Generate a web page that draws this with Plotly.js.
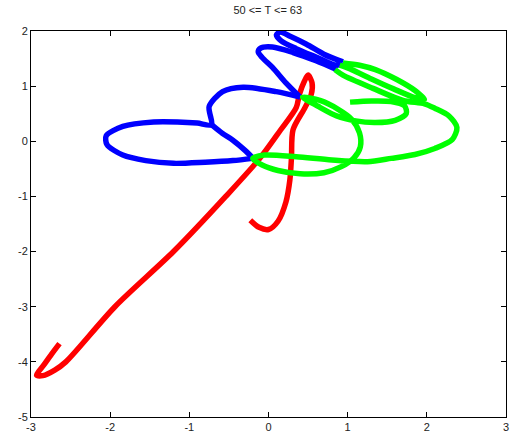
<!DOCTYPE html>
<html>
<head>
<meta charset="utf-8">
<script src="https://cdn.plot.ly/plotly-3.0.1.min.js"></script>
<style>html,body{margin:0;padding:0;background:#fff;}#chart{width:510px;height:434px;}</style>
</head>
<body>
<div id="chart"></div>
<script>
// Red trajectory
var redX = [-2.64, -2.74, -2.84, -2.93, -2.85, -2.70, -2.56, -1.94, -1.20, -0.54, -0.11, 0.15, 0.35, 0.39, 0.45, 0.50, 0.55, 0.54, 0.46, 0.31, 0.29, 0.27, 0.22, 0.12, 0.00, -0.12, -0.23];
var redY = [-3.67, -3.86, -4.06, -4.24, -4.25, -4.15, -4.00, -3.00, -2.00, -1.00, -0.31, 0.20, 0.61, 0.85, 1.08, 1.20, 1.06, 0.85, 0.61, 0.21, -0.30, -0.70, -1.10, -1.45, -1.60, -1.56, -1.43];

// Blue trajectory (segments separated by null)
var blueX = [-0.20, -0.45, -0.80, -1.20, -1.55, -1.84, -2.04, -2.05, -1.84, -1.45, -1.15, -0.90, -0.72, -0.75, -0.58, -0.32, 0.10, 0.40, null,
             -0.72, -0.58, -0.45, -0.30, -0.20, null,
             0.40, 0.22, 0.05, -0.08, -0.13, -0.10, 0.05, 0.31, 0.60, 0.86, null,
             0.94, 0.70, 0.48, 0.28, 0.15, 0.10, 0.16, 0.35, 0.60, 0.86, 0.94];
var blueY = [-0.31, -0.35, -0.38, -0.40, -0.35, -0.25, -0.06, 0.10, 0.27, 0.35, 0.35, 0.33, 0.30, 0.63, 0.90, 0.98, 0.90, 0.80, null,
             0.30, 0.14, 0.02, -0.16, -0.30, null,
             0.80, 1.06, 1.34, 1.52, 1.62, 1.69, 1.71, 1.61, 1.46, 1.30, null,
             1.44, 1.58, 1.76, 1.90, 1.98, 1.93, 1.82, 1.68, 1.53, 1.38, 1.42];

// Green trajectory (segments separated by null)
var greenX = [1.03, 1.30, 1.55, 1.72, 1.74, 1.60, 1.35, 1.10, 0.86, 0.62, 0.43, 0.65, 0.88, 1.05, 1.15, 1.16, 1.08, 0.92, 0.70, 0.40, 0.12, -0.08, -0.20, -0.05, 0.35, 0.80, 1.25, 1.55, 1.85, 2.10, 2.32, 2.38, 2.28, 2.10, 1.97, 1.70, 1.32, 0.94, 0.84, null,
              0.94, 1.15, 1.35, 1.62, 1.85, 1.97, 1.85, 1.58, 1.30, 1.05, 0.90];
var greenY = [0.71, 0.73, 0.72, 0.64, 0.50, 0.38, 0.34, 0.37, 0.46, 0.64, 0.80, 0.74, 0.58, 0.40, 0.15, -0.10, -0.30, -0.46, -0.57, -0.59, -0.53, -0.43, -0.31, -0.25, -0.28, -0.34, -0.37, -0.31, -0.24, -0.13, 0.03, 0.25, 0.46, 0.60, 0.68, 0.74, 0.96, 1.20, 1.30, null,
              1.42, 1.38, 1.30, 1.12, 0.92, 0.76, 0.79, 0.95, 1.13, 1.30, 1.38];

var titleText = '50 <= T <= 63';
var xTicks = [-3, -2, -1, 0, 1, 2, 3];
var yTicks = [-5, -4, -3, -2, -1, 0, 1, 2];

function tr(x, y, color) {
  return {x: x, y: y, type: 'scatter', mode: 'lines', connectgaps: false,
          line: {color: color, width: 5.5, shape: 'spline', smoothing: 0.8},
          hoverinfo: 'skip', showlegend: false};
}

var data = [tr(redX, redY, '#ff0000'), tr(blueX, blueY, '#0000ff'), tr(greenX, greenY, '#00ff00')];

var axisCommon = {showgrid: false, zeroline: false, showline: true, linecolor: '#000', linewidth: 1,
                  mirror: 'ticks', ticks: 'inside', ticklen: 5, tickcolor: '#000',
                  tickfont: {family: 'Liberation Sans, Arial, sans-serif', size: 11, color: '#222'}};

var layout = {
  width: 510, height: 434,
  margin: {l: 31, r: 4, t: 31, b: 17, pad: 0},
  paper_bgcolor: '#fff', plot_bgcolor: '#fff',
  title: {text: titleText, x: 0.525, xanchor: 'center', y: 0.985, yanchor: 'top',
          font: {family: 'Liberation Sans, Arial, sans-serif', size: 11, color: '#222'}},
  xaxis: Object.assign({range: [-3, 3], tickvals: xTicks, ticktext: xTicks.map(String)}, axisCommon),
  yaxis: Object.assign({range: [-5, 2], tickvals: yTicks, ticktext: yTicks.map(String)}, axisCommon)
};

Plotly.newPlot('chart', data, layout, {displayModeBar: false, staticPlot: true});
</script>
</body>
</html>
